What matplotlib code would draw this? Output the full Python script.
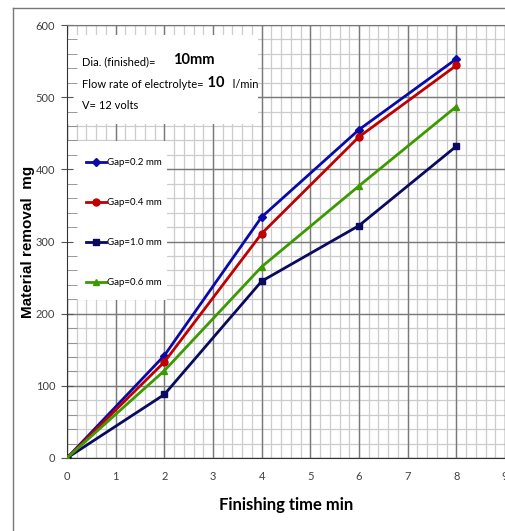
import matplotlib
matplotlib.use("Agg")
import matplotlib.pyplot as plt
import numpy as np
from matplotlib.patches import Rectangle
from matplotlib.lines import Line2D

# Data
time_min = [0, 2, 4, 6, 8]
gap_02 = [0, 142, 334, 455, 553]
gap_04 = [0, 133, 311, 445, 544]
gap_10 = [0, 88, 245, 322, 432]
gap_06 = [0, 121, 265, 377, 487]

x_ticks = list(range(10))
y_ticks = list(range(0, 601, 100))

narrow = ['Lato', 'DejaVu Sans']

fig = plt.figure(figsize=(5.06, 5.31), dpi=100)
ax = fig.add_axes([67 / 506, 1 - 458 / 531, 438 / 506, 433 / 531])

# grid drawn by hand so the white boxes can cover it
ax.vlines(np.arange(0, 9.01, 0.2), 0, 600, color='#cccccc', lw=0.9, zorder=0.3)
ax.hlines(np.arange(0, 601, 20), 0, 9, color='#cccccc', lw=0.9, zorder=0.3)
ax.vlines(x_ticks, 0, 600, color='#7a7a7a', lw=1.0, zorder=0.4)
ax.hlines(y_ticks, 0, 9, color='#7a7a7a', lw=1.0, zorder=0.4)

# white boxes for the notes and the legend
ax.add_patch(Rectangle((0, 463), 3.92, 123, facecolor='white', edgecolor='none', zorder=1))
ax.add_patch(Rectangle((0, 219), 2.05, 220, facecolor='white', edgecolor='none', zorder=1))

ax.plot(time_min, gap_02, color='#0a0aa8', lw=2, marker='D', ms=4.5, label='Gap=0.2 mm', zorder=3)
ax.plot(time_min, gap_04, color='#c00000', lw=2, marker='o', ms=5, label='Gap=0.4 mm', zorder=3)
ax.plot(time_min, gap_10, color='#0a0a5e', lw=2, marker='s', ms=5, label='Gap=1.0 mm', zorder=3)
ax.plot(time_min, gap_06, color='#3a9a00', lw=2, marker='^', ms=5, label='Gap=0.6 mm', zorder=3)

ax.set_xlim(0, 9)
ax.set_ylim(0, 600)
ax.set_xticks(x_ticks)
ax.set_yticks(y_ticks)
ax.set_yticks(np.arange(0, 601, 20), minor=True)
ax.tick_params(axis='x', length=0, pad=9, labelsize=8, labelcolor='#404040')
ax.tick_params(axis='y', which='major', direction='inout', length=9, color='#555555',
               labelsize=8, labelcolor='#404040', pad=4)
ax.tick_params(axis='y', which='minor', direction='in', length=7, color='#888888')
for lab in ax.get_xticklabels() + ax.get_yticklabels():
    lab.set_family(narrow)
for s in ax.spines.values():
    s.set_color('#777777')
ax.spines['left'].set_color('#333333')
ax.spines['bottom'].set_color('#333333')

ax.set_xlabel('Finishing time min', fontsize=12, fontweight='bold', family=narrow)
ax.xaxis.set_label_coords(0.5, -0.09)
ax.set_ylabel('Material removal  mg', fontsize=11, fontweight='bold',
              family=['Liberation Sans', 'DejaVu Sans'])
ax.yaxis.set_label_coords(-0.073, 0.5)

# notes
t1 = ax.text(0.034, 0.915, 'Dia. (finished)=      ', transform=ax.transAxes, fontsize=8,
             family=narrow, va='center', zorder=4)
ax.annotate('10mm', xy=(1, 0), xycoords=t1, va='bottom', fontsize=10.5, fontweight='bold',
            family=narrow, zorder=4)
t2 = ax.text(0.034, 0.862, 'Flow rate of electrolyte=', transform=ax.transAxes, fontsize=8,
             family=narrow, va='center', zorder=4)
t3 = ax.annotate(' 10', xy=(1, 0), xycoords=t2, va='bottom', fontsize=10.5, fontweight='bold',
                 family=narrow, zorder=4)
ax.annotate('   l/min', xy=(1, 0), xycoords=t3, va='bottom', fontsize=8, family=narrow, zorder=4)
ax.text(0.034, 0.815, 'V= 12 volts', transform=ax.transAxes, fontsize=8,
        family=narrow, va='center', zorder=4)

leg = ax.legend(loc='upper left', bbox_to_anchor=(0.044, 0.693), frameon=False,
                labelspacing=3.2, handlelength=2.0, handletextpad=0.1,
                borderaxespad=0, borderpad=0, prop={'family': narrow, 'size': 7})
leg.set_zorder(5)

# outer frame line of the original figure
fig.add_artist(Line2D([13 / 506, 13 / 506], [0, 1 - 8 / 531], color='#777777', lw=1))
fig.add_artist(Line2D([13 / 506, 1], [1 - 8 / 531, 1 - 8 / 531], color='#777777', lw=1))

fig.savefig('out.png', dpi=100)
